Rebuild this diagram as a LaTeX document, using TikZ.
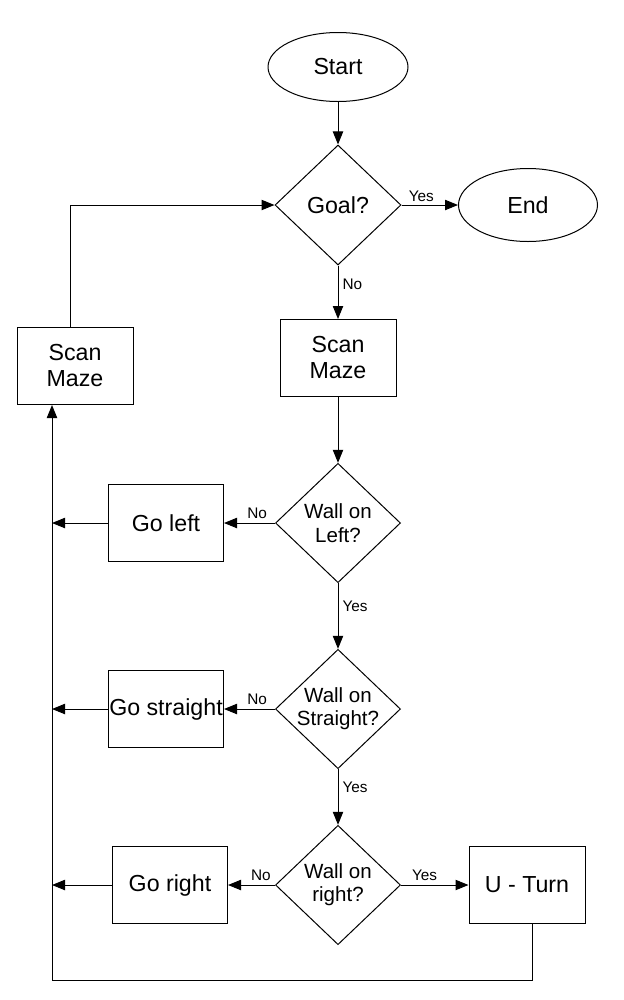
\documentclass[tikz,border=0pt]{standalone}
\usepackage{fontspec}
\setmainfont{Liberation Sans}
\usetikzlibrary{shapes.geometric,arrows.meta}
\begin{document}
\begin{tikzpicture}[x=0.75pt,y=-0.75pt,
  line width=0.75pt,
  arr/.style={-{Triangle[length=9.75pt,width=7.75pt]}},
  mainfont/.style={font=\fontsize{17.4pt}{19.5pt}\selectfont},
  oval/.style={ellipse,draw,inner sep=0pt,mainfont},
  box/.style={rectangle,draw,inner sep=0pt,align=center,mainfont,minimum height=57.75pt},
  dia/.style={diamond,draw,inner sep=0pt,minimum width=93.75pt,minimum height=89.5pt},
  dtext/.style={align=center,inner sep=0pt,font=\fontsize{15.4pt}{17.5pt}\selectfont},
  lab/.style={inner sep=0pt,font=\fontsize{11.5pt}{13pt}\selectfont}
]
\useasboundingbox (0,0) rectangle (624,1000);
\node[oval,minimum width=105pt,minimum height=51.75pt] (start) at (338,67) {Start};
\node[dia,minimum width=94.5pt,minimum height=90pt,label={[mainfont,inner sep=0pt]center:Goal?}] (goal) at (338,205) {};
\node[oval,minimum width=104.25pt,minimum height=54.75pt] (end) at (528,205) {End};
\node[box,minimum width=87pt] (scan2) at (338,358) {Scan\\Maze};
\node[box,minimum width=87pt] (scan1) at (75,366) {Scan\\Maze};
\node[dia,label={[dtext]center:Wall on\\Left?}] (wl) at (338,523) {};
\node[box,minimum width=86.25pt] (gol) at (166,523) {Go left};
\node[dia,label={[dtext]center:Wall on\\Straight?}] (ws) at (338,709) {};
\node[box,minimum width=86.25pt] (gos) at (166,709) {Go straight};
\node[dia,label={[dtext]center:Wall on\\right?}] (wr) at (338,885) {};
\node[box,minimum width=86.25pt] (gor) at (170,885) {Go right};
\node[box,minimum width=87pt] (ut) at (527,885) {U - Turn};
\coordinate (bl) at (52,980);

\draw[arr] (start) -- (goal);
\draw[arr] (goal.east) -- (end.west) node[lab,pos=0.35,above=2pt] (ly1) {Yes};
\draw[arr] (goal.south) -- (scan2.north) node[lab,pos=0.36,right=3pt] (ln1) {No};
\draw[arr] ([xshift=-3.75pt]scan1.north) |- (goal.west);
\draw[arr] (scan2.south) -- (wl.north);
\draw[arr] (wl.west) -- (gol.east) node[lab,pos=0.35,above=3pt] (ln2) {No};
\draw[arr] (wl.south) -- (ws.north) node[lab,pos=0.35,right=3pt] (ly2) {Yes};
\draw[arr] (ws.west) -- (gos.east) node[lab,pos=0.35,above=3pt] (ln3) {No};
\draw[arr] (ws.south) -- (wr.north) node[lab,pos=0.32,right=3pt] (ly3) {Yes};
\draw[arr] (wr.west) -- (gor.east) node[lab,pos=0.3,above=3pt] (ln4) {No};
\draw[arr] (wr.east) -- (ut.west) node[lab,pos=0.35,above=3pt] (ly4) {Yes};
\draw[arr] (gol.west) -- (gol.west -| bl);
\draw[arr] (gos.west) -- (gos.west -| bl);
\draw[arr] (gor.west) -- (gor.west -| bl);
\draw ([xshift=3.75pt]ut.south) |- (bl);
\draw[arr] (bl) -- (scan1.south -| bl);
\end{tikzpicture}
\end{document}
